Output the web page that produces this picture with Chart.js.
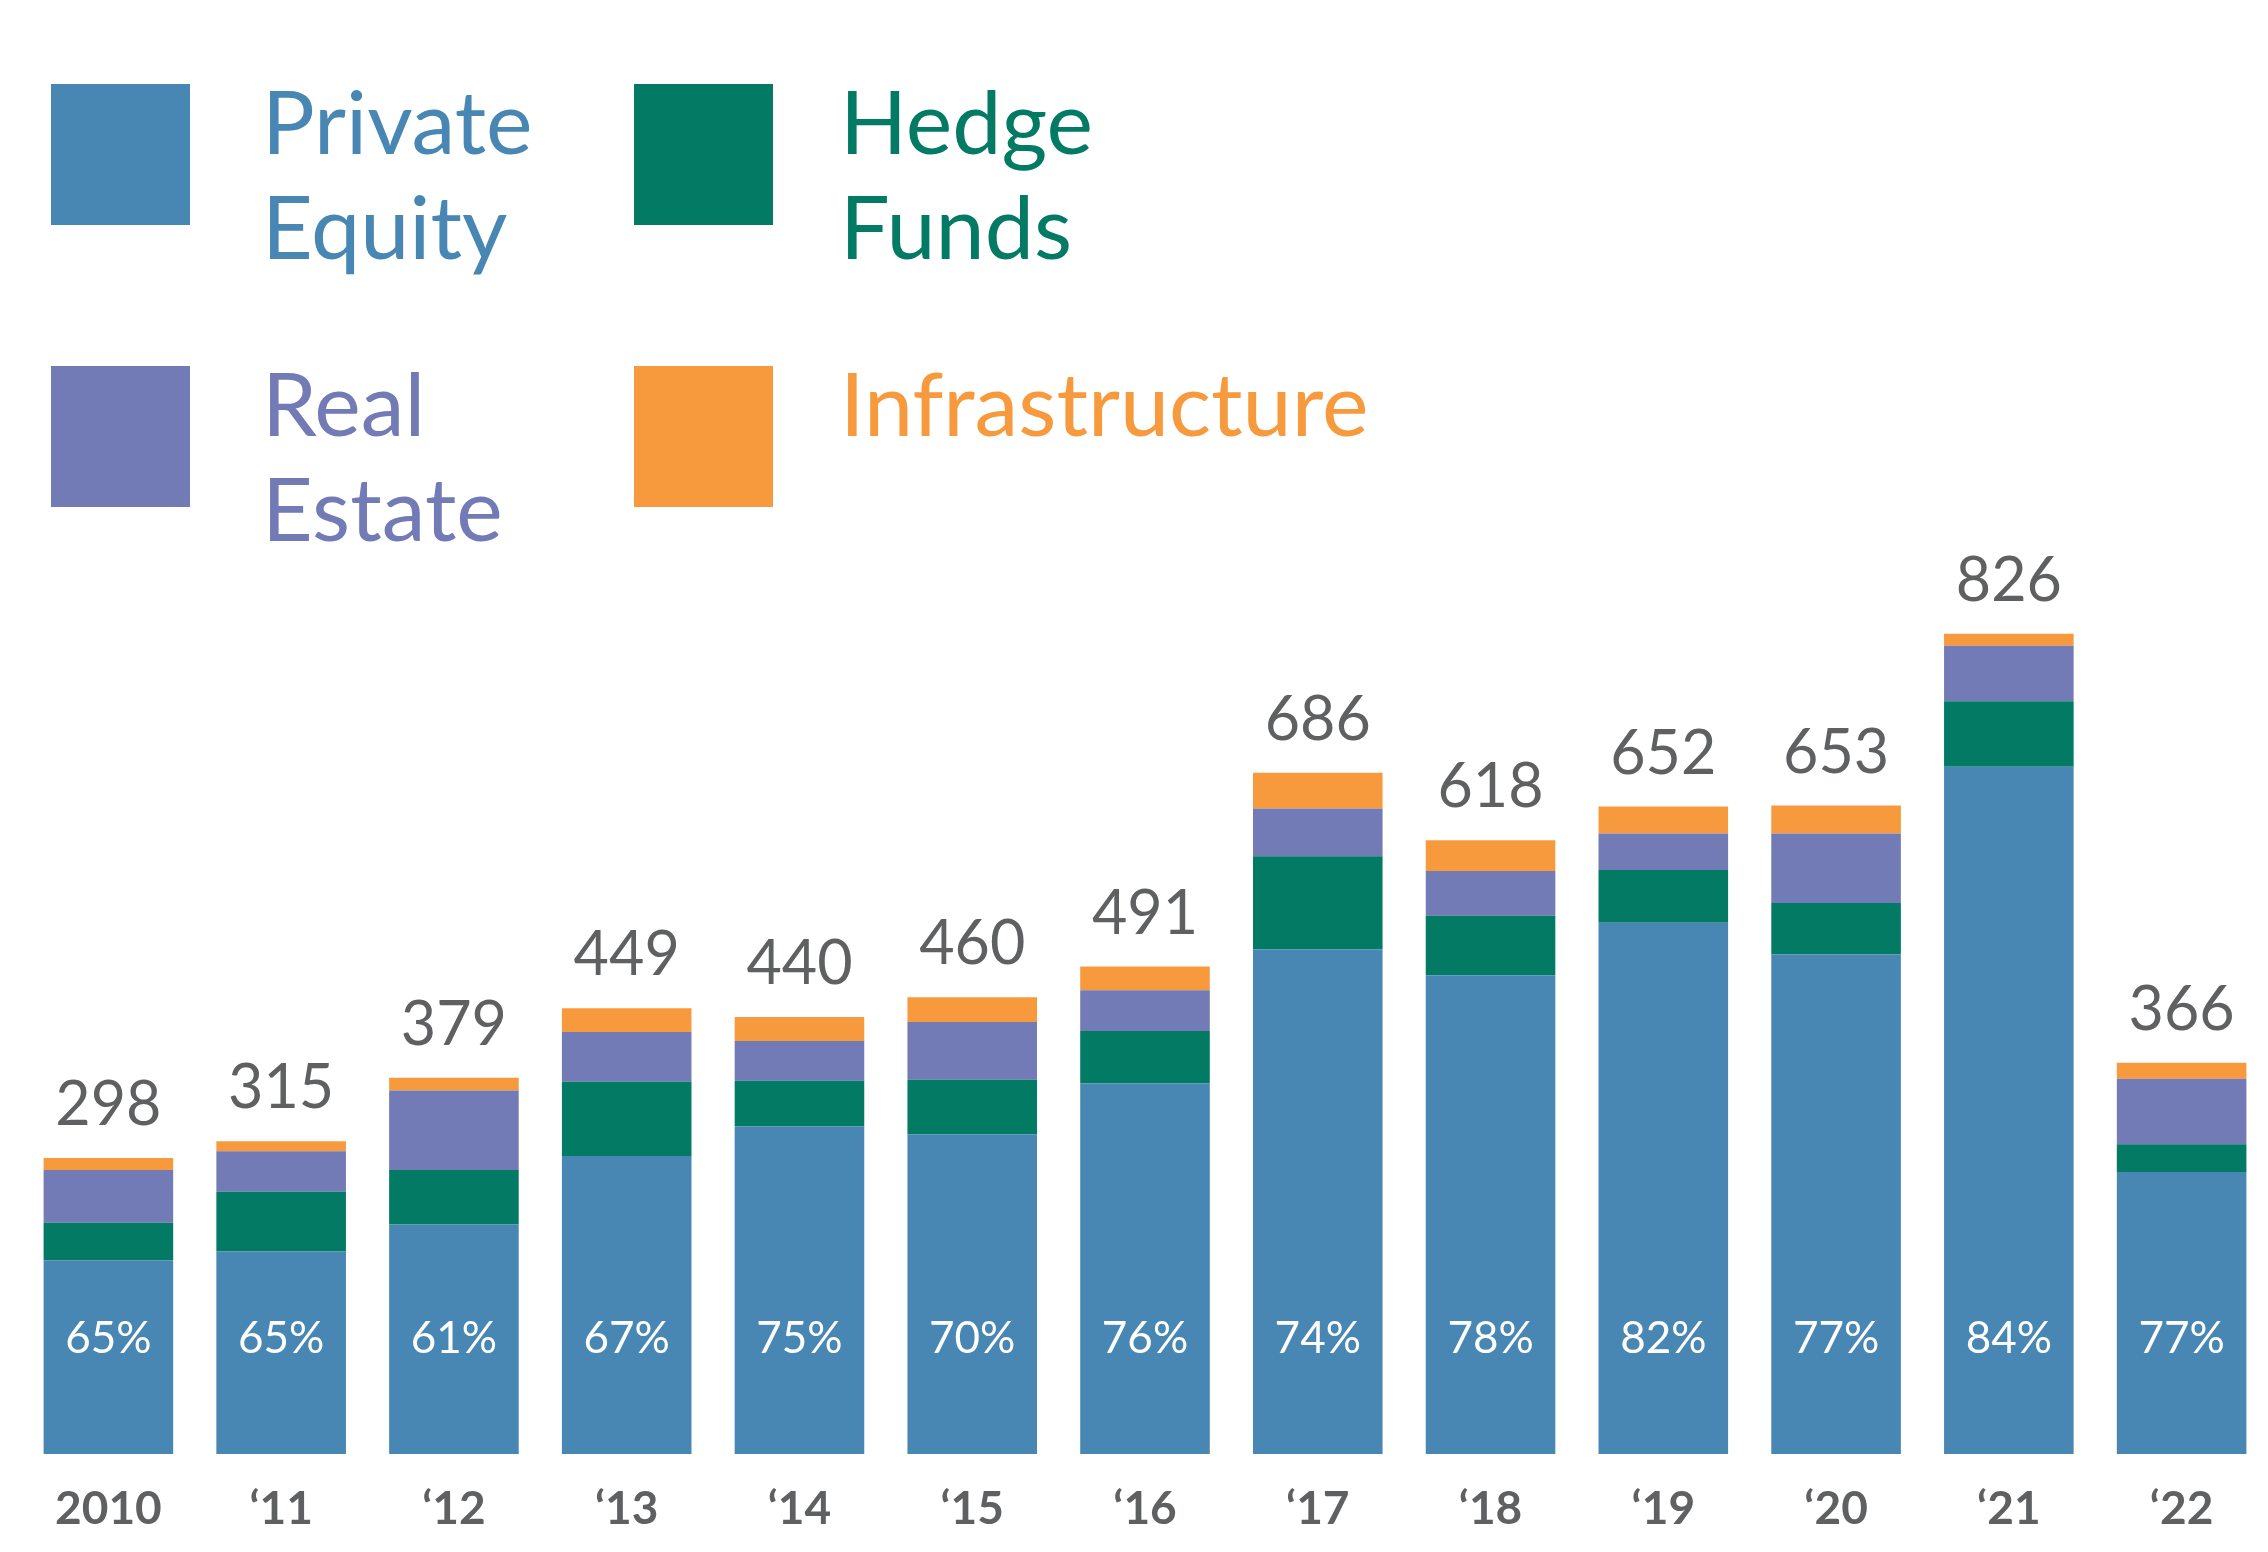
<!DOCTYPE html>
<html><head><meta charset="utf-8">
<script src="https://cdn.jsdelivr.net/npm/chart.js@4/dist/chart.umd.min.js"></script>
<style>
html,body{margin:0;padding:0;background:#fff;}
#wrap{position:relative;width:2268px;height:1552px;}
canvas{position:absolute;left:0;top:0;}
.sq{position:absolute;width:139px;height:141px;}
.lt{position:absolute;font-family:Lato,sans-serif;font-size:88px;line-height:105px;}
</style></head><body>
<div id="wrap">
<canvas id="c" width="2268" height="1552"></canvas>
<div class="sq" style="left:51px;top:84px;background:#4887b3"></div>
<div class="lt" style="left:262px;top:68px;color:#4887b3">Private<br>Equity</div>
<div class="sq" style="left:634px;top:84px;background:#037a64"></div>
<div class="lt" style="left:840px;top:68px;color:#037a64">Hedge<br>Funds</div>
<div class="sq" style="left:51px;top:366px;background:#727bb6"></div>
<div class="lt" style="left:262px;top:350px;color:#727bb6">Real<br>Estate</div>
<div class="sq" style="left:634px;top:366px;background:#f79a3e"></div>
<div class="lt" style="left:840px;top:350px;color:#f79a3e">Infrastructure</div>
</div>
<script>
const categories = ["2010","\u201811","\u201812","\u201813","\u201814","\u201815","\u201816","\u201817","\u201818","\u201819","\u201820","\u201821","\u201822"];
const privateEquity = [195,204,231,300,330,322,373,508,482,535,503,692,284];
const hedgeFunds    = [38,60,55,75,46,55,53,94,60,53,52,66,28];
const realEstate    = [53,41,80,50,40,58,41,48,45,37,70,56,66];
const infrastructure= [12,10,13,24,24,25,24,36,31,27,28,12,16];
const totalLabels   = ["298","315","379","449","440","460","491","686","618","652","653","826","366"];
const peShareLabels = ["65%","65%","61%","67%","75%","70%","76%","74%","78%","82%","77%","84%","77%"];

const labelPlugin = {
  id:'labels',
  afterDatasetsDraw(chart){
    const ctx = chart.ctx;
    const top = chart.getDatasetMeta(3).data;
    const pe = chart.getDatasetMeta(0).data;
    const yPct = chart.scales.y.getPixelForValue(116);
    ctx.save();
    ctx.textAlign='center';
    top.forEach((b,i)=>{
      ctx.fillStyle='#5f6062';
      ctx.font='400 61px Lato, sans-serif';
      ctx.textBaseline='bottom';
      ctx.fillText(totalLabels[i], b.x, b.y-22);
      ctx.fillStyle='#ffffff';
      ctx.font='400 44px Lato, sans-serif';
      ctx.textBaseline='middle';
      ctx.fillText(peShareLabels[i], pe[i].x, yPct);
    });
    ctx.restore();
  }
};

new Chart(document.getElementById('c'),{
  type:'bar',
  data:{labels:categories,datasets:[
    {label:'Private Equity',data:privateEquity,backgroundColor:'#4887b3'},
    {label:'Hedge Funds',data:hedgeFunds,backgroundColor:'#037a64'},
    {label:'Real Estate',data:realEstate,backgroundColor:'#727bb6'},
    {label:'Infrastructure',data:infrastructure,backgroundColor:'#f79a3e'}
  ]},
  options:{
    responsive:false,animation:false,
    layout:{padding:{left:22,right:0,top:461,bottom:0}},
    datasets:{bar:{barPercentage:0.75,categoryPercentage:1}},
    plugins:{legend:{display:false},tooltip:{enabled:false}},
    scales:{
      x:{stacked:true,grid:{display:false,drawTicks:false},border:{display:false},
         afterFit(s){ s.height = 98; },
         ticks:{color:'#5f6062',padding:32,maxRotation:0,font:{family:'Lato',size:46,weight:'bold',lineHeight:1}}},
      y:{stacked:true,display:false,min:0,max:1000}
    }
  },
  plugins:[labelPlugin]
});
</script>
</body></html>
